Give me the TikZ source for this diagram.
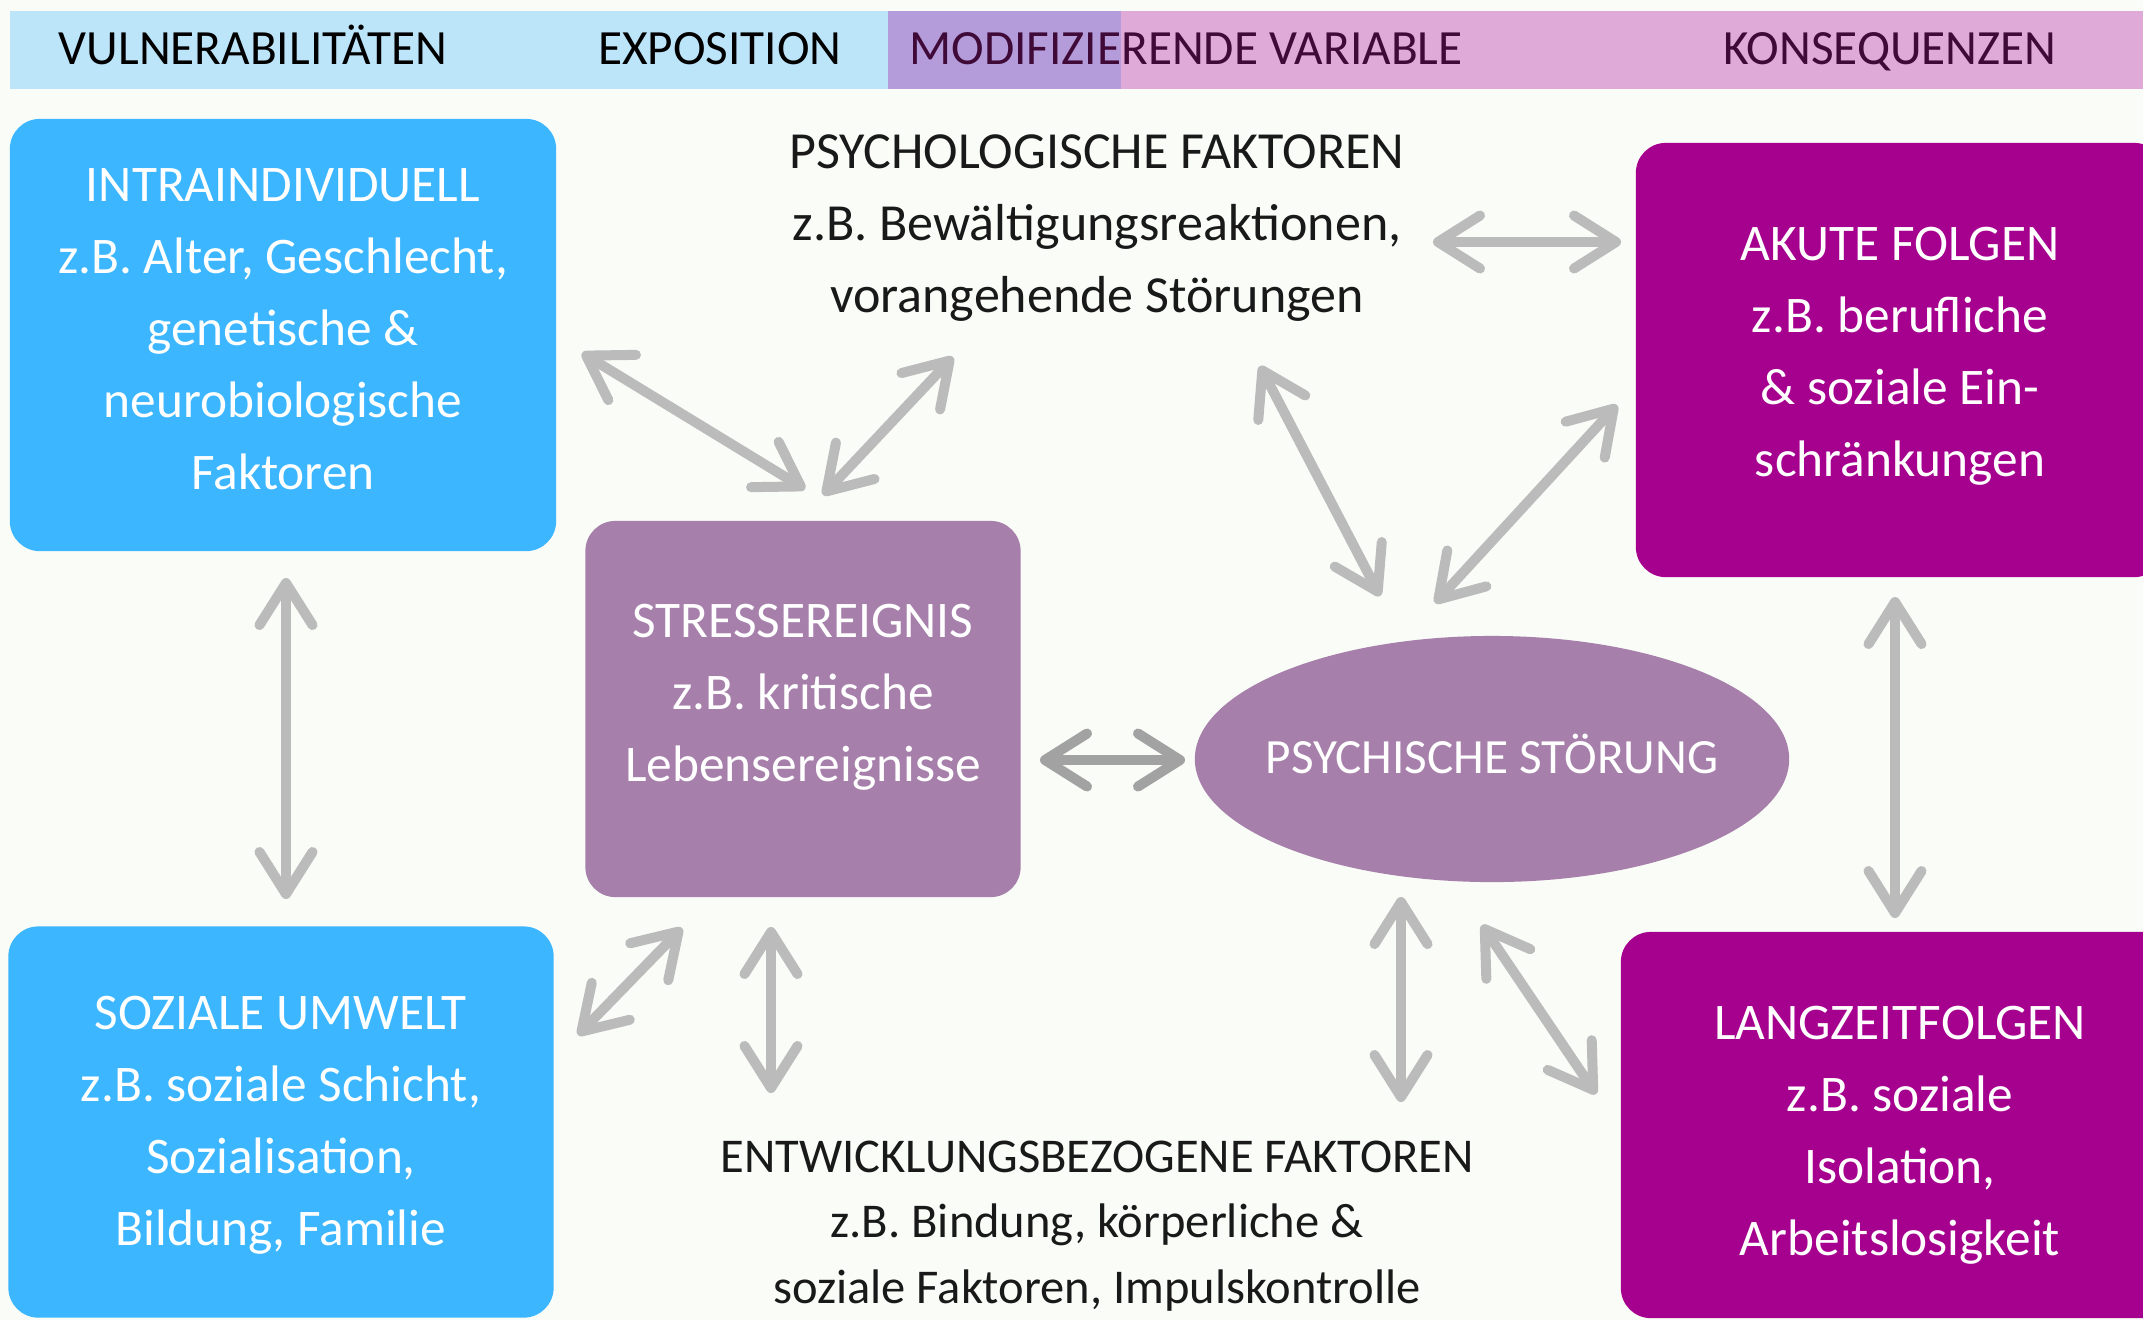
\documentclass[tikz,border=0pt]{standalone}
\usepackage{fontspec}
\setmainfont{Carlito}
\usetikzlibrary{arrows.meta,shapes.geometric}
\definecolor{grund}{HTML}{FAFCF7}
\definecolor{kopfblau}{HTML}{BDE5FA}
\definecolor{kopflila}{HTML}{B39CD9}
\definecolor{kopfrosa}{HTML}{DFA9D8}
\definecolor{kopftext}{HTML}{3F0A38}
\definecolor{vulblau}{HTML}{3BB6FF}
\definecolor{stresslila}{HTML}{A67FAB}
\definecolor{folgelila}{HTML}{A6008F}
\definecolor{pfeilgrau}{HTML}{BBBBBB}
\definecolor{pfeildunkel}{HTML}{A2A2A2}
\tikzset{
  kasten/.style={rounded corners=0.3cm,inner sep=0pt},
  kastentext/.style={text=white,align=center,inner sep=0pt,
    font=\fontsize{14.6}{20.5}\selectfont},
  kopf/.style={font=\fontsize{14}{16}\selectfont,inner sep=0pt,anchor=base},
  frei/.style={align=center,text=black!90,inner sep=0pt},
  pfeil/.style={line width=0.1cm,draw=pfeilgrau,line cap=round,<->},
}
\begin{document}
\begin{tikzpicture}[x=0.01cm,y=-0.01cm,
  >={Straight Barb[length=0.42cm,width=0.53cm,round]}]
\fill[grund] (0,0) rectangle (2143,1320);
\useasboundingbox (0,0) rectangle (2143,1320);
% Kopfzeile
\fill[kopfblau] (10,11) rectangle (888,89);
\fill[kopflila] (888,11) rectangle (1121,89);
\fill[kopfrosa] (1121,11) rectangle (2143,89);
\node[kopf] (vul) at (253,64) {VULNERABILITÄTEN};
\node[kopf] (expo) at (720,64) {EXPOSITION};
\node[kopf,text=kopftext] (modi) at (1186,64) {MODIFIZIERENDE VARIABLE};
\node[kopf,text=kopftext] (kons) at (1890,64) {KONSEQUENZEN};
% Kaesten
\node[kasten,fill=vulblau,minimum width=5.46cm,minimum height=4.32cm,
  label={[kastentext,yshift=0.055cm]center:{INTRAINDIVIDUELL\\z.B. Alter, Geschlecht,\\genetische \&\\neurobiologische\\Faktoren}}]
  (intra) at (283,335) {};
\node[kasten,fill=vulblau,minimum width=5.45cm,minimum height=3.91cm,
  label={[kastentext,yshift=-0.03cm]center:{SOZIALE UMWELT\\z.B. soziale Schicht,\\Sozialisation,\\Bildung, Familie}}]
  (sozial) at (281,1122) {};
\node[kasten,fill=stresslila,minimum width=4.35cm,minimum height=3.76cm,
  label={[kastentext,yshift=0.12cm]center:{STRESSEREIGNIS\\z.B. kritische\\Lebensereignisse}}]
  (stress) at (803,709) {};
\node[ellipse,fill=stresslila,inner sep=0pt,minimum width=5.94cm,minimum height=2.46cm,
  label={[text=white,inner sep=0pt,yshift=0.055cm,font=\fontsize{14}{16}\selectfont]center:PSYCHISCHE STÖRUNG}]
  (stoerung) at (1492,759) {};
\node[kasten,fill=folgelila,minimum width=5.28cm,minimum height=4.34cm,
  label={[kastentext,yshift=0.04cm]center:{AKUTE FOLGEN\\z.B. berufliche\\\& soziale Ein-\\schränkungen}}]
  (akut) at (1900,360) {};
\node[kasten,fill=folgelila,minimum width=5.58cm,minimum height=3.86cm,
  label={[kastentext,yshift=-0.1cm]center:{LANGZEITFOLGEN\\z.B. soziale\\Isolation,\\Arbeitslosigkeit}}]
  (langzeit) at (1900,1125) {};
% freie Texte
\node[frei,font=\fontsize{14.8}{20.5}\selectfont] (psyfak) at (1097,228)
  {PSYCHOLOGISCHE FAKTOREN\\z.B. Bewältigungsreaktionen,\\vorangehende Störungen};
\node[frei,font=\fontsize{13.8}{18.7}\selectfont] (entw) at (1097,1226)
  {ENTWICKLUNGSBEZOGENE FAKTOREN\\z.B. Bindung, körperliche \&\\soziale Faktoren, Impulskontrolle};
% Pfeilenden
\coordinate (a1) at (1433,242);  \coordinate (a2) at (1621,242);
\coordinate (b1) at (582,353);   \coordinate (b2) at (805,489);
\coordinate (c1) at (823,495);   \coordinate (c2) at (953,357);
\coordinate (d1) at (1260,366);  \coordinate (d2) at (1380,596);
\coordinate (e1) at (1435,603);  \coordinate (e2) at (1617,405);
\coordinate (f1) at (286,578);   \coordinate (f2) at (286,899);
\coordinate (h1) at (1895,597);  \coordinate (h2) at (1895,918);
\coordinate (i1) at (578,1035);  \coordinate (i2) at (682,928);
\coordinate (j1) at (771,927);   \coordinate (j2) at (771,1093);
\coordinate (k1) at (1401,897);  \coordinate (k2) at (1401,1102);
\coordinate (l1) at (1482,925);  \coordinate (l2) at (1596,1094);
\coordinate (g1) at (1040,760);  \coordinate (g2) at (1185,760);
\foreach \p/\q in {a1/a2,b1/b2,c1/c2,d1/d2,e1/e2,f1/f2,h1/h2,i1/i2,j1/j2,k1/k2,l1/l2}
  {\draw[pfeil] (\p) -- (\q);}
\draw[pfeil,draw=pfeildunkel] (g1) -- (g2);
\end{tikzpicture}
\end{document}
